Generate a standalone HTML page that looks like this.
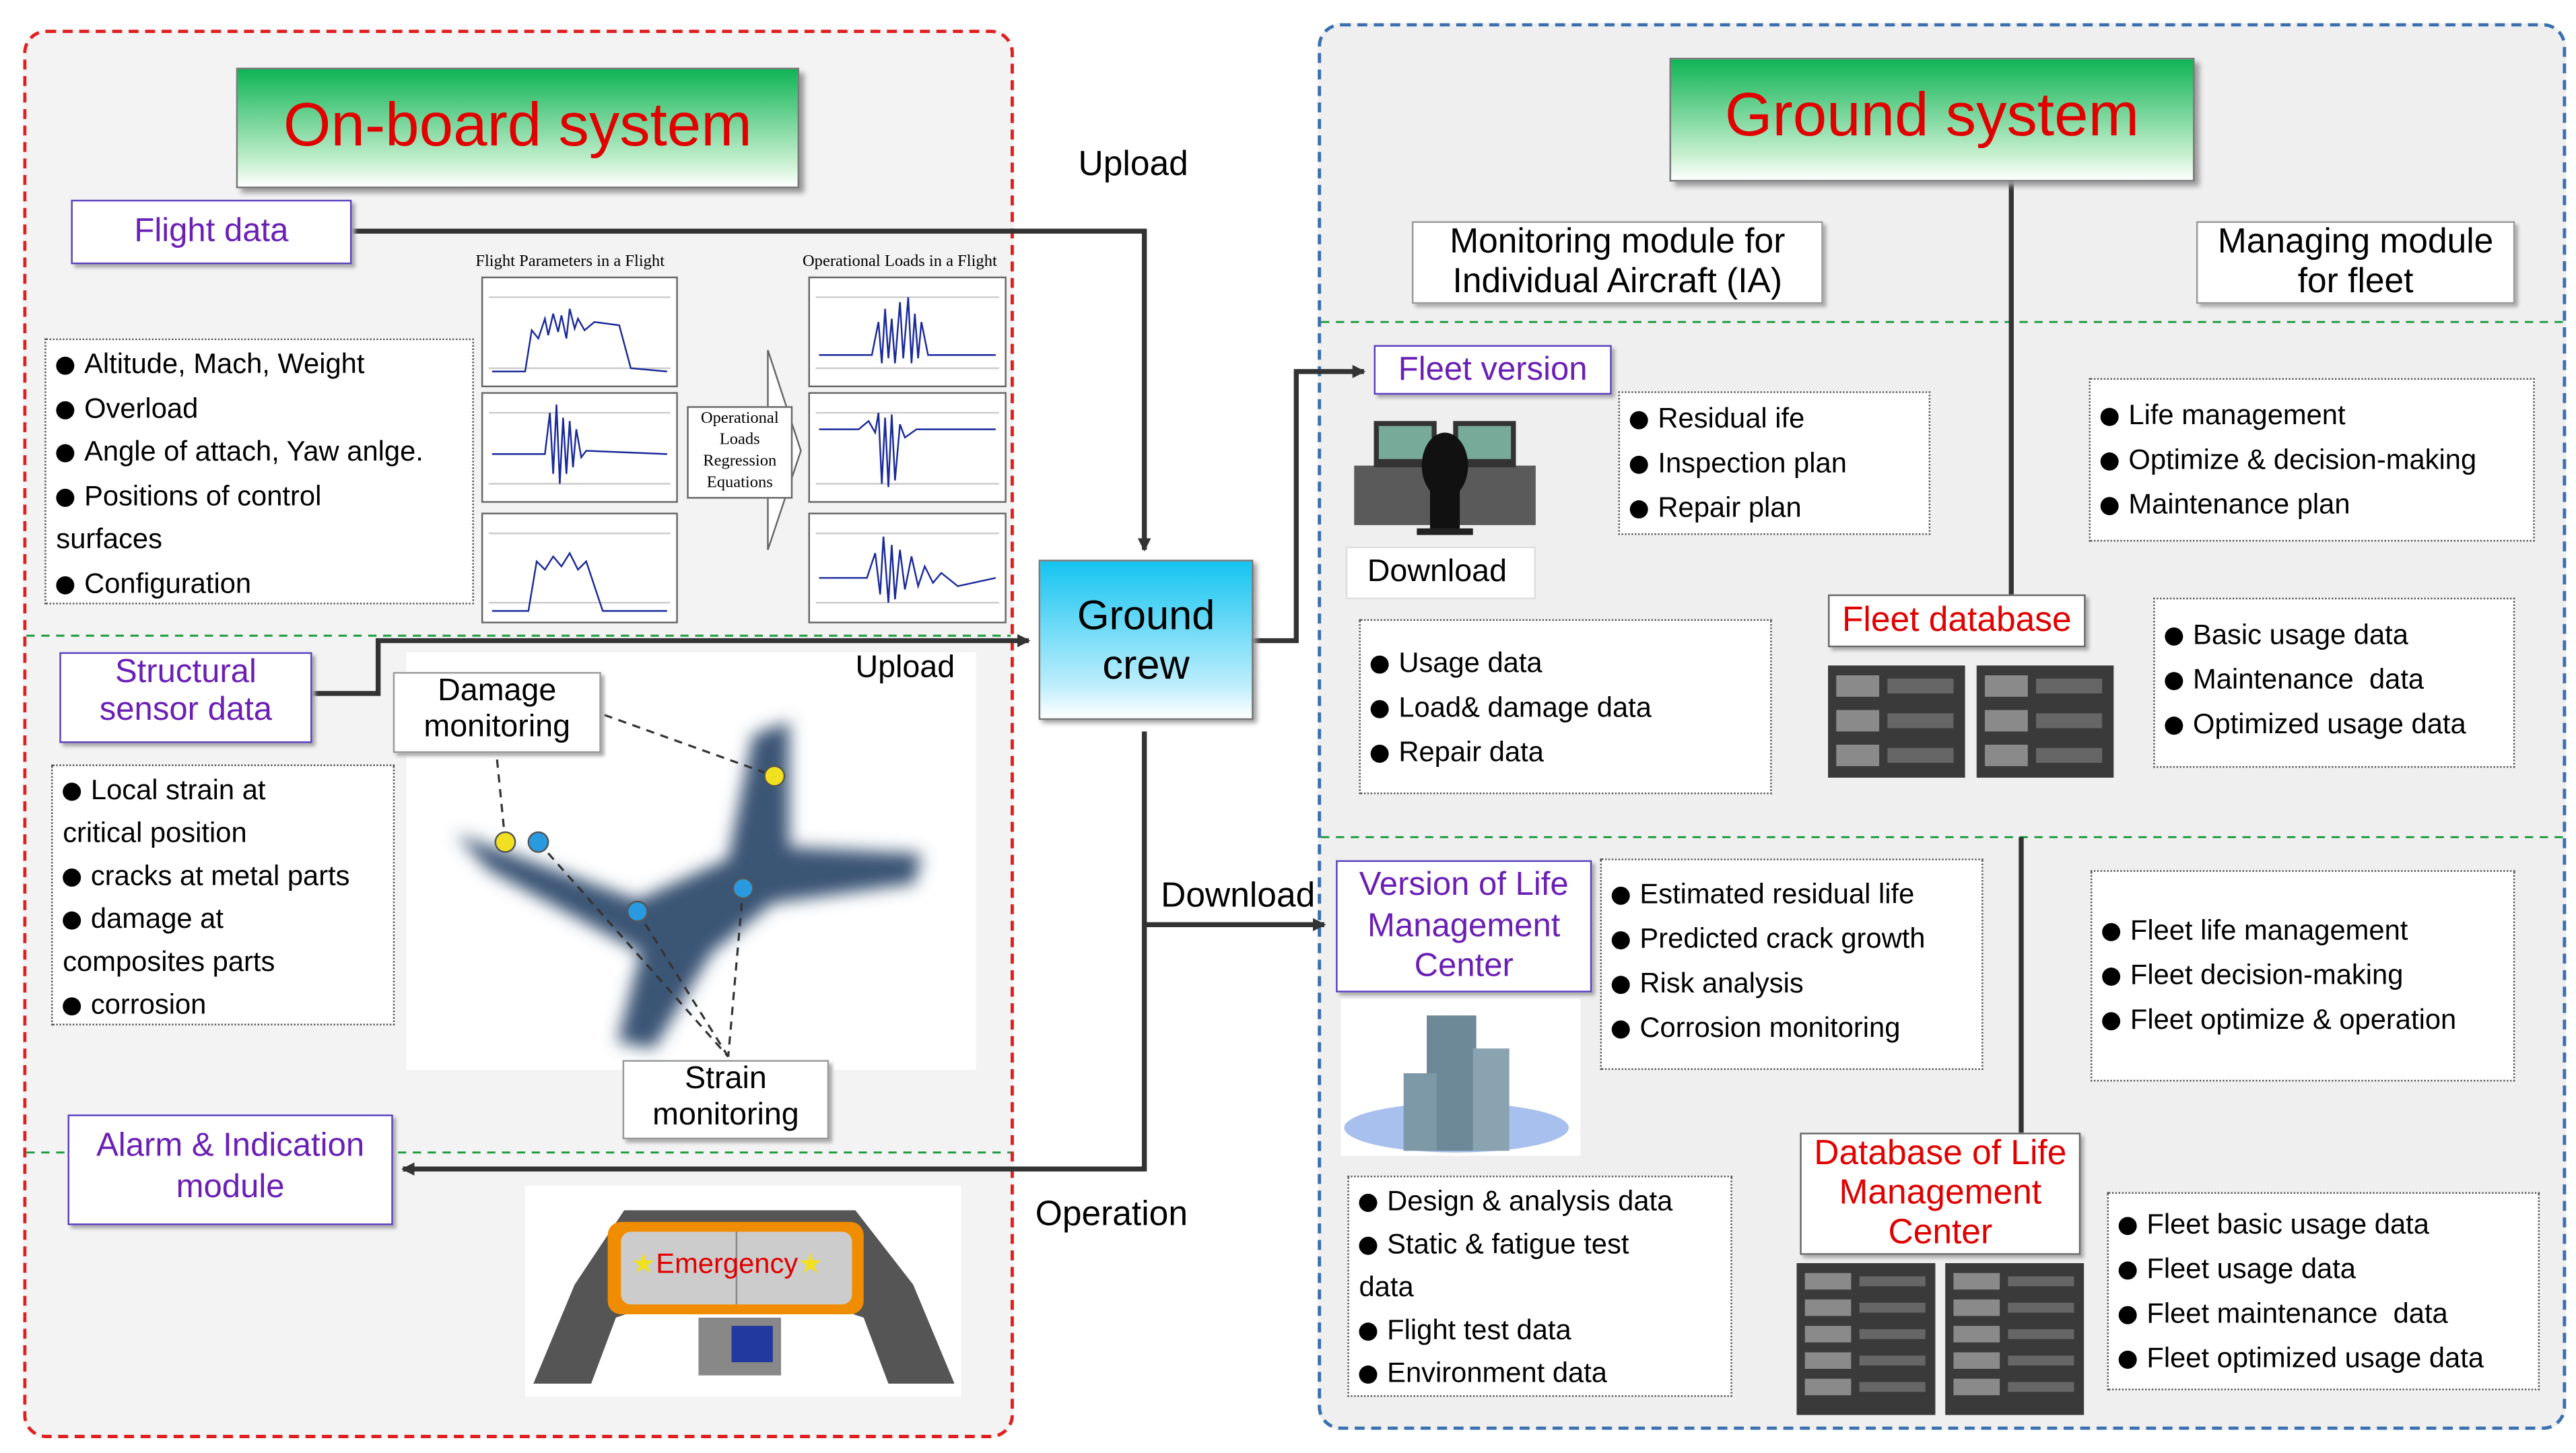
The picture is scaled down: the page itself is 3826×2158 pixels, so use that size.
<!DOCTYPE html>
<html><head><meta charset="utf-8"><style>
html,body{margin:0;padding:0;width:3826px;height:2158px;overflow:hidden;background:#fff}
#s{position:absolute;left:0;top:0;width:1560px;height:880px;transform:scale(2.4526,2.4523);transform-origin:0 0;font-family:"Liberation Sans","DejaVu Sans",sans-serif;color:#000}
.a{position:absolute;box-sizing:border-box}
.bx{position:absolute;box-sizing:border-box;background:#fff;border:1px solid #555;box-shadow:2px 2px 2px #aaa}
.pu{color:#6a1fb5;border:1px solid #5a3fc0;text-align:center;font-size:20px;line-height:23px}
.rd{color:#e00000;border:1px solid #666;text-align:center;font-size:21px;line-height:24px}
.l{position:absolute;box-sizing:border-box;background:#fff;border:1px dotted #555;font-size:17px;line-height:27px;padding:2px 6px;white-space:nowrap}
.b{display:inline-block;width:11px;height:11px;border-radius:50%;background:#000;margin-right:6px;vertical-align:-1px}
.t{text-align:center;font-size:19px;line-height:22px}
.ttl{position:absolute;box-sizing:border-box;background:linear-gradient(#0fb455,#c8f0d0 80%,#fff);border:1px solid #777;box-shadow:3px 3px 3px #999;color:#e00000;text-align:center;font-size:37px}
</style></head><body><div id="s">
<div class="a" style="left:14px;top:18px;width:600px;height:853px;border:2px dashed #e02020;border-radius:14px;background:#f3f3f3"></div>
<div class="a" style="left:798px;top:14px;width:756px;height:852px;border:2px dashed #3a6fb0;border-radius:14px;background:#efefef"></div>
<svg class="a" style="left:0;top:0" width="1560" height="880">
<defs><marker id="ar" markerWidth="8" markerHeight="8" refX="7" refY="4" orient="auto" markerUnits="userSpaceOnUse"><path d="M0,0L8,4L0,8z" fill="#333"/></marker></defs>
<g stroke="#1a9a3a" stroke-dasharray="5,4" stroke-width="1.2"><line x1="16" y1="385" x2="612" y2="385"/><line x1="16" y1="698" x2="612" y2="698"/><line x1="800" y1="195" x2="1552" y2="195"/><line x1="800" y1="507" x2="1552" y2="507"/></g>
<g stroke="#333" stroke-width="3" fill="none">
<polyline points="213,140 693,140 693,333" marker-end="url(#ar)"/>
<polyline points="189,420 229,420 229,388 623,388" marker-end="url(#ar)"/>
<polyline points="758,388 785,388 785,225 826,225" marker-end="url(#ar)"/>
<polyline points="693,443 693,708 244,708" marker-end="url(#ar)"/>
<polyline points="693,560 802,560" marker-end="url(#ar)"/>
<line x1="1218" y1="110" x2="1218" y2="360"/><line x1="1224" y1="507" x2="1224" y2="686"/>
</g>
</svg>
<div class="ttl" style="left:143px;top:41px;width:341px;height:73px;line-height:68px">On-board system</div>
<div class="ttl" style="left:1011px;top:35px;width:318px;height:75px;line-height:68px">Ground system</div>
<div class="bx pu" style="left:43px;top:121px;width:170px;height:39px;line-height:37px">Flight data</div>
<div class="a" style="left:653px;top:88px;font-size:21px">Upload</div>
<div class="l" style="left:27px;top:205px;width:260px;height:161px;line-height:26.5px"><span class="b"></span>Altitude, Mach, Weight<br><span class="b"></span>Overload<br><span class="b"></span>Angle of attach, Yaw anlge.<br><span class="b"></span>Positions of control<br>surfaces<br><span class="b"></span>Configuration</div>
<div class="a" style="left:288px;top:153px;font-size:10px;font-family:'Liberation Serif',serif">Flight Parameters in a Flight</div>
<div class="a" style="left:486px;top:153px;font-size:10px;font-family:'Liberation Serif',serif">Operational Loads in a Flight</div>
<svg class="a" style="left:290px;top:165px" width="325" height="215">
<g fill="#fff" stroke="#666"><rect x="2" y="3" width="118" height="66"/><rect x="2" y="73" width="118" height="66"/><rect x="2" y="146" width="118" height="66"/><rect x="200" y="3" width="119" height="66"/><rect x="200" y="73" width="119" height="66"/><rect x="200" y="146" width="119" height="66"/></g>
<g stroke="#ccc"><line x1="6" y1="15" x2="116" y2="15"/><line x1="6" y1="85" x2="116" y2="85"/><line x1="6" y1="158" x2="116" y2="158"/><line x1="204" y1="15" x2="315" y2="15"/><line x1="204" y1="85" x2="315" y2="85"/><line x1="204" y1="158" x2="315" y2="158"/><line x1="6" y1="58" x2="116" y2="58"/><line x1="204" y1="58" x2="315" y2="58"/><line x1="6" y1="128" x2="116" y2="128"/><line x1="204" y1="128" x2="315" y2="128"/><line x1="6" y1="200" x2="116" y2="200"/><line x1="204" y1="200" x2="315" y2="200"/></g>
<g stroke="#1a2a9a" fill="none" stroke-width="1">
<polyline points="8,60 28,60 32,35 36,40 40,28 42,38 45,25 48,36 50,26 53,40 55,22 58,34 60,28 64,35 70,30 85,32 92,58 114,60"/>
<polyline points="8,110 40,110 43,85 45,122 47,80 49,128 51,88 53,122 55,90 57,118 59,95 62,112 65,108 114,110"/>
<polyline points="8,205 30,205 35,175 40,180 45,172 50,178 55,170 60,180 65,175 75,205 114,205"/>
<polyline points="206,50 238,50 242,30 244,55 246,22 248,52 250,28 252,55 255,18 257,52 260,15 262,55 264,25 266,52 268,30 272,50 313,50"/>
<polyline points="206,95 230,95 236,90 240,97 242,85 244,128 246,88 248,130 250,86 252,126 255,92 258,100 265,95 313,95"/>
<polyline points="206,185 235,185 240,170 243,195 245,160 248,200 250,165 252,198 255,168 258,192 262,172 266,190 270,178 275,188 280,182 290,190 313,185"/>
</g>
<path d="M128,130 L175,130 L175,168 L195,108 L175,47 L175,85 L128,85Z" fill="#fff" stroke="#666"/>
</svg>
<div class="a" style="left:416px;top:246px;width:64px;height:56px;background:#fff;font-size:10px;line-height:13px;text-align:center;font-family:'Liberation Serif',serif;border:1px solid #666">Operational Loads Regression Equations</div>
<div class="bx pu" style="left:36px;top:395px;width:153px;height:55px">Structural<br>sensor data</div>
<div class="a" style="left:246px;top:395px;width:345px;height:253px;background:#fff"></div>
<div class="a" style="left:518px;top:394px;font-size:19px">Upload</div>
<svg class="a" style="left:246px;top:395px" width="345" height="253">
<defs><filter id="bl"><feGaussianBlur stdDeviation="5"/></filter></defs>
<g filter="url(#bl)" fill="#3a5575"><path d="M30,110 L140,150 L195,125 L210,50 L232,42 L232,118 L312,122 L308,140 L222,152 L185,182 L150,240 L128,236 L142,182 L50,132Z"/></g>
<g stroke="#333" stroke-dasharray="5,4" stroke-width="1.3" fill="none"><line x1="120" y1="38" x2="223" y2="75"/><line x1="55" y1="65" x2="60" y2="115"/><line x1="80" y1="115" x2="195" y2="245"/><line x1="140" y1="157" x2="195" y2="245"/><line x1="204" y1="143" x2="195" y2="245"/></g>
<g stroke="#555"><circle cx="223" cy="75" r="6" fill="#f0e020"/><circle cx="60" cy="115" r="6" fill="#f0e020"/><circle cx="80" cy="115" r="6" fill="#2a9ae0"/><circle cx="140" cy="157" r="6" fill="#2a9ae0"/><circle cx="204" cy="143" r="6" fill="#2a9ae0"/></g>
</svg>
<div class="bx t" style="left:238px;top:407px;width:126px;height:49px;border-color:#999">Damage<br>monitoring</div>
<div class="bx t" style="left:377px;top:642px;width:125px;height:48px;border-color:#999">Strain<br>monitoring</div>
<div class="l" style="left:31px;top:463px;width:208px;height:158px;line-height:26px"><span class="b"></span>Local strain at<br>critical position<br><span class="b"></span>cracks at metal parts<br><span class="b"></span>damage at<br>composites parts<br><span class="b"></span>corrosion</div>
<div class="bx pu" style="left:41px;top:675px;width:197px;height:67px;line-height:25px;padding-top:6px">Alarm &amp; Indication<br>module</div>
<div class="a" style="left:318px;top:718px;width:264px;height:128px;background:#fff"></div>
<svg class="a" style="left:318px;top:718px" width="264" height="128">
<path d="M5,120 L30,60 L60,15 L200,15 L235,60 L260,120 L220,120 L205,80 L190,75 L70,75 L55,80 L40,120Z" fill="#555"/>
<rect x="50" y="22" width="155" height="56" rx="8" fill="#f08c00"/>
<rect x="58" y="28" width="140" height="44" rx="6" fill="#ccc"/>
<rect x="105" y="80" width="50" height="35" fill="#888"/><rect x="125" y="85" width="25" height="22" fill="#223aa0"/>
<line x1="128" y1="28" x2="128" y2="72" stroke="#888"/>
</svg>
<div class="a" style="left:382px;top:756px;font-size:17px;color:#e00000"><span style="color:#f0e020">★</span>Emergency<span style="color:#f0e020">★</span></div>
<div class="a" style="left:627px;top:724px;font-size:21px">Operation</div>
<div class="a" style="left:703px;top:531px;font-size:21px">Download</div>
<div class="a" style="left:629px;top:339px;width:130px;height:97px;background:linear-gradient(#14c4f0,#bfeefc 80%,#fff);border:1px solid #777;box-shadow:2px 2px 3px #999;font-size:25px;line-height:30px;text-align:center;padding-top:18px">Ground<br>crew</div>
<div class="bx t" style="left:855px;top:134px;width:249px;height:50px;font-size:21px;line-height:24px;border-color:#999">Monitoring module for<br>Individual Aircraft (IA)</div>
<div class="bx t" style="left:1330px;top:134px;width:193px;height:50px;font-size:21px;line-height:24px;border-color:#999">Managing module<br>for fleet</div>
<div class="bx pu" style="left:832px;top:209px;width:144px;height:30px;line-height:28px">Fleet version</div>
<svg class="a" style="left:820px;top:250px" width="110" height="78"><rect x="0" y="32" width="110" height="36" fill="#5a5a5a"/><rect x="12" y="5" width="38" height="28" fill="#333"/><rect x="60" y="5" width="38" height="28" fill="#333"/><rect x="15" y="8" width="32" height="20" fill="#7a9"/><rect x="63" y="8" width="32" height="20" fill="#7a9"/><ellipse cx="55" cy="32" rx="14" ry="20" fill="#111"/><rect x="46" y="45" width="18" height="28" fill="#111"/><rect x="38" y="70" width="34" height="4" fill="#222"/></svg>
<div class="bx" style="left:815px;top:331px;width:115px;height:32px;font-size:19px;line-height:30px;padding-left:12px;border-color:#ddd;box-shadow:none">Download</div>
<div class="l" style="left:980px;top:237px;width:189px;height:87px"><span class="b"></span>Residual ife<br><span class="b"></span>Inspection plan<br><span class="b"></span>Repair plan</div>
<div class="l" style="left:1265px;top:229px;width:270px;height:99px;padding-top:8px"><span class="b"></span>Life management<br><span class="b"></span>Optimize &amp; decision-making<br><span class="b"></span>Maintenance plan</div>
<div class="bx rd" style="left:1107px;top:360px;width:156px;height:32px;line-height:30px">Fleet database</div>
<div class="l" style="left:823px;top:375px;width:250px;height:106px;padding-top:12px"><span class="b"></span>Usage data<br><span class="b"></span>Load&amp; damage data<br><span class="b"></span>Repair data</div>
<div class="l" style="left:1304px;top:362px;width:219px;height:103px;padding-top:8px"><span class="b"></span>Basic usage data<br><span class="b"></span>Maintenance&nbsp; data<br><span class="b"></span>Optimized usage data</div>
<svg class="a" style="left:1107px;top:403px" width="175" height="68"><g fill="#3a3a3a"><rect x="0" y="0" width="83" height="68"/><rect x="90" y="0" width="83" height="68"/></g><g fill="#8a8a8a"><rect x="5" y="6" width="26" height="13"/><rect x="5" y="27" width="26" height="13"/><rect x="5" y="48" width="26" height="13"/><rect x="95" y="6" width="26" height="13"/><rect x="95" y="27" width="26" height="13"/><rect x="95" y="48" width="26" height="13"/></g><g fill="#666"><rect x="36" y="8" width="40" height="9"/><rect x="36" y="29" width="40" height="9"/><rect x="36" y="50" width="40" height="9"/><rect x="126" y="8" width="40" height="9"/><rect x="126" y="29" width="40" height="9"/><rect x="126" y="50" width="40" height="9"/></g></svg>
<div class="bx pu" style="left:809px;top:521px;width:155px;height:80px;line-height:24.5px;padding-top:2px">Version of Life<br>Management<br>Center</div>
<div class="a" style="left:812px;top:605px;width:145px;height:95px;background:#fff"></div>
<svg class="a" style="left:812px;top:605px" width="145" height="95"><ellipse cx="70" cy="78" rx="68" ry="15" fill="#a8c0ee"/><rect x="52" y="10" width="30" height="82" fill="#6d8896"/><rect x="38" y="45" width="20" height="47" fill="#7d98a6"/><rect x="80" y="30" width="22" height="62" fill="#8aa3b0"/></svg>
<div class="l" style="left:969px;top:520px;width:232px;height:128px;padding-top:7px"><span class="b"></span>Estimated residual life<br><span class="b"></span>Predicted crack growth<br><span class="b"></span>Risk analysis<br><span class="b"></span>Corrosion monitoring</div>
<div class="l" style="left:1266px;top:527px;width:257px;height:128px;padding-top:22px"><span class="b"></span>Fleet life management<br><span class="b"></span>Fleet decision-making<br><span class="b"></span>Fleet optimize &amp; operation</div>
<div class="bx rd" style="left:1090px;top:686px;width:170px;height:74px">Database of Life<br>Management<br>Center</div>
<div class="l" style="left:816px;top:712px;width:233px;height:134px;line-height:26px"><span class="b"></span>Design &amp; analysis data<br><span class="b"></span>Static &amp; fatigue test<br>data<br><span class="b"></span>Flight test data<br><span class="b"></span>Environment data</div>
<div class="l" style="left:1276px;top:722px;width:262px;height:120px;padding-top:5px"><span class="b"></span>Fleet basic usage data<br><span class="b"></span>Fleet usage data<br><span class="b"></span>Fleet maintenance&nbsp; data<br><span class="b"></span>Fleet optimized usage data</div>
<svg class="a" style="left:1088px;top:765px" width="176" height="92"><g fill="#3a3a3a"><rect x="0" y="0" width="84" height="92"/><rect x="90" y="0" width="84" height="92"/></g><g fill="#8a8a8a"><rect x="5" y="6" width="28" height="10"/><rect x="5" y="22" width="28" height="10"/><rect x="5" y="38" width="28" height="10"/><rect x="5" y="54" width="28" height="10"/><rect x="5" y="70" width="28" height="10"/><rect x="95" y="6" width="28" height="10"/><rect x="95" y="22" width="28" height="10"/><rect x="95" y="38" width="28" height="10"/><rect x="95" y="54" width="28" height="10"/><rect x="95" y="70" width="28" height="10"/></g><g fill="#666"><rect x="38" y="8" width="40" height="6"/><rect x="38" y="24" width="40" height="6"/><rect x="38" y="40" width="40" height="6"/><rect x="38" y="56" width="40" height="6"/><rect x="38" y="72" width="40" height="6"/><rect x="128" y="8" width="40" height="6"/><rect x="128" y="24" width="40" height="6"/><rect x="128" y="40" width="40" height="6"/><rect x="128" y="56" width="40" height="6"/><rect x="128" y="72" width="40" height="6"/></g></svg>
</div></body></html>
